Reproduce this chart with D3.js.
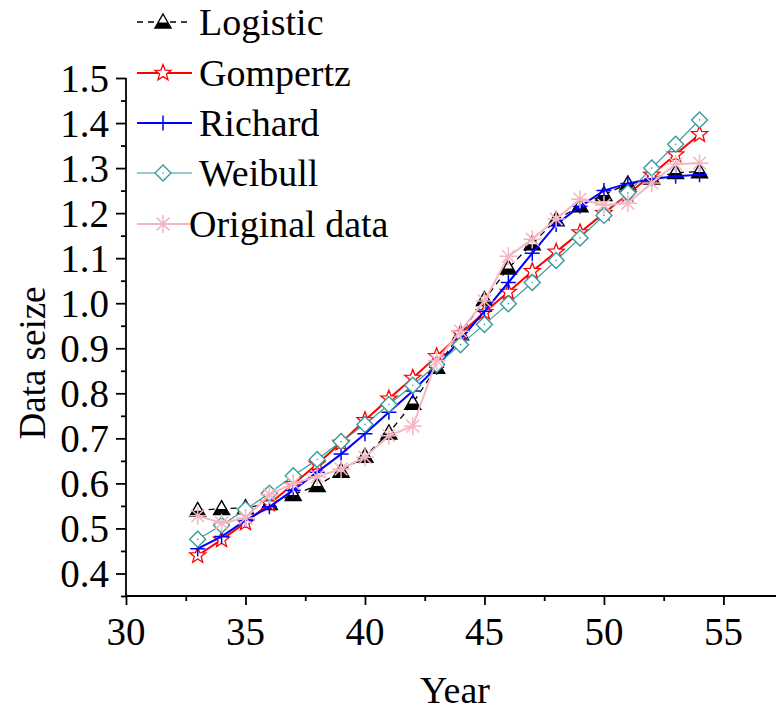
<!DOCTYPE html>
<html><head><meta charset="utf-8">
<script src="https://cdn.jsdelivr.net/npm/d3@7"></script>
<style>body{margin:0;background:#fff}svg{display:block}text{font-family:"Liberation Serif","Times New Roman",serif;fill:#000}</style>
</head><body>
<svg id="c" width="776" height="715"></svg>
<script>
const years = [33,34,35,36,37,38,39,40,41,42,43,44,45,46,47,48,49,50,51,52,53,54];
const logistic = [0.540,0.544,0.546,0.555,0.575,0.595,0.627,0.660,0.712,0.778,0.858,0.932,1.008,1.078,1.132,1.185,1.216,1.241,1.265,1.278,1.290,1.292];
const gompertz = [0.440,0.475,0.513,0.555,0.598,0.643,0.690,0.740,0.788,0.834,0.882,0.932,0.980,1.025,1.071,1.114,1.157,1.200,1.242,1.285,1.330,1.375];
const richard = [0.455,0.482,0.518,0.548,0.585,0.625,0.665,0.710,0.758,0.805,0.858,0.920,0.982,1.046,1.111,1.175,1.215,1.250,1.266,1.276,1.282,1.285];
const weibull = [0.476,0.507,0.542,0.578,0.617,0.653,0.693,0.731,0.775,0.818,0.864,0.908,0.953,0.999,1.046,1.095,1.145,1.195,1.245,1.300,1.353,1.407];
const original = [0.528,0.512,0.523,0.575,0.600,0.615,0.632,0.658,0.706,0.727,0.873,0.938,1.005,1.104,1.142,1.187,1.231,1.218,1.222,1.267,1.309,1.311];
const seriesNames = ["Logistic","Gompertz","Richard","Weibull","Original data"];
const xTicks = [30,35,40,45,50,55];
const yTicks = [0.4,0.5,0.6,0.7,0.8,0.9,1.0,1.1,1.2,1.3,1.4,1.5];

const svg = d3.select("#c");
const x = d3.scaleLinear().domain([30,57.2]).range([126,776]);
const y = d3.scaleLinear().domain([0.35,1.5]).range([596,78]);

const styles = [
  {data:logistic, color:"#000", width:1.3, dash:"6,5", marker:"tri"},
  {data:gompertz, color:"#ff0000", width:2, dash:null, marker:"star"},
  {data:richard, color:"#0000ff", width:2, dash:null, marker:"plus"},
  {data:weibull, color:"#379a9a", width:1.2, dash:null, marker:"diamond"},
  {data:original, color:"#f4b6c2", width:2, dash:null, marker:"asterisk"}
];

function drawMarker(g, type, cx, cy, color){
  if(type==="tri"){
    const s=8;
    g.append("path").attr("d",`M${cx},${cy-s}L${cx+s},${cy+s*0.75}L${cx-s},${cy+s*0.75}Z`)
      .attr("fill","#fff").attr("stroke",color).attr("stroke-width",1.4);
    g.append("path").attr("d",`M${cx-s*0.55},${cy+s*0.05}L${cx+s*0.55},${cy+s*0.05}L${cx+s},${cy+s*0.75}L${cx-s},${cy+s*0.75}Z`)
      .attr("fill",color);
  } else if(type==="star"){
    const pts=[];
    for(let i=0;i<10;i++){const r=i%2?3.6:8.5;const a=-Math.PI/2+i*Math.PI/5;pts.push([cx+r*Math.cos(a),cy+r*Math.sin(a)]);}
    g.append("path").attr("d","M"+pts.join("L")+"Z").attr("fill","#fff").attr("stroke",color).attr("stroke-width",1.3);
  } else if(type==="plus"){
    const s=7.5;
    g.append("path").attr("d",`M${cx-s},${cy}H${cx+s}M${cx},${cy-s}V${cy+s}`).attr("stroke",color).attr("stroke-width",1.5);
  } else if(type==="diamond"){
    const s=8;
    g.append("path").attr("d",`M${cx},${cy-s}L${cx+s},${cy}L${cx},${cy+s}L${cx-s},${cy}Z`)
      .attr("fill","#fff").attr("stroke",color).attr("stroke-width",1.4);
    g.append("circle").attr("cx",cx).attr("cy",cy).attr("r",0.8).attr("fill",color);
  } else if(type==="asterisk"){
    const s=9;
    let d="";
    for(let i=0;i<4;i++){const a=i*Math.PI/4;d+=`M${cx-s*Math.cos(a)},${cy-s*Math.sin(a)}L${cx+s*Math.cos(a)},${cy+s*Math.sin(a)}`;}
    g.append("path").attr("d",d).attr("stroke",color).attr("stroke-width",1.5);
  }
}

// Axes
const yAxisG = svg.append("g").attr("transform","translate(126,0)");
yAxisG.call(d3.axisLeft(y).tickValues(d3.range(0.35,1.5001,0.05)).tickSize(5).tickFormat(""));
yAxisG.selectAll(".tick").filter(d=>yTicks.some(t=>Math.abs(t-d)<1e-6)).select("line").attr("x2",-10);
yAxisG.selectAll("line,path").attr("stroke","#000").attr("stroke-width",1.8);
yAxisG.select(".domain").attr("d",`M0,${y(1.5)}V${y(0.35)}`);
yTicks.forEach(t=>{
  svg.append("text").attr("x",109).attr("y",y(t)).attr("dy","0.35em").attr("text-anchor","end")
    .attr("font-size",39).text(t.toFixed(1));
});

const xAxisG = svg.append("g").attr("transform","translate(0,596)");
xAxisG.call(d3.axisBottom(x).tickValues(d3.range(30,57.1,2.5)).tickSize(5).tickFormat(""));
xAxisG.selectAll(".tick").filter(d=>xTicks.includes(d)).select("line").attr("y2",9);
xAxisG.selectAll("line,path").attr("stroke","#000").attr("stroke-width",1.8);
xAxisG.select(".domain").attr("d",`M${x(30)},0H776`);
xTicks.forEach(t=>{
  svg.append("text").attr("x",x(t)).attr("y",645).attr("text-anchor","middle").attr("font-size",39).text(t);
});

svg.append("text").attr("x",455).attr("y",703).attr("text-anchor","middle").attr("font-size",38).text("Year");
svg.append("text").attr("transform","translate(45,363) rotate(-90)").attr("text-anchor","middle").attr("font-size",37).text("Data seize");

// Series
const line = d3.line().x((d,i)=>x(years[i])).y(d=>y(d));
styles.forEach(s=>{
  const g = svg.append("g");
  g.append("path").datum(s.data).attr("d",line).attr("fill","none").attr("stroke",s.color)
    .attr("stroke-width",s.width).attr("stroke-dasharray",s.dash);
  s.data.forEach((v,i)=>drawMarker(g,s.marker,x(years[i]),y(v),s.color));
});

// Legend
const legY = [22,73,123,173,224];
styles.forEach((s,i)=>{
  const g = svg.append("g");
  const yy = legY[i];
  g.append("line").attr("x1",137).attr("x2",192).attr("y1",yy).attr("y2",yy)
    .attr("stroke",s.color).attr("stroke-width",s.width).attr("stroke-dasharray",s.dash);
  drawMarker(g,s.marker,163,yy,s.color);
  svg.append("text").attr("x",i===4?189:199).attr("y",yy).attr("dy","0.35em").attr("font-size",38).text(seriesNames[i]);
});
</script>
</body></html>
